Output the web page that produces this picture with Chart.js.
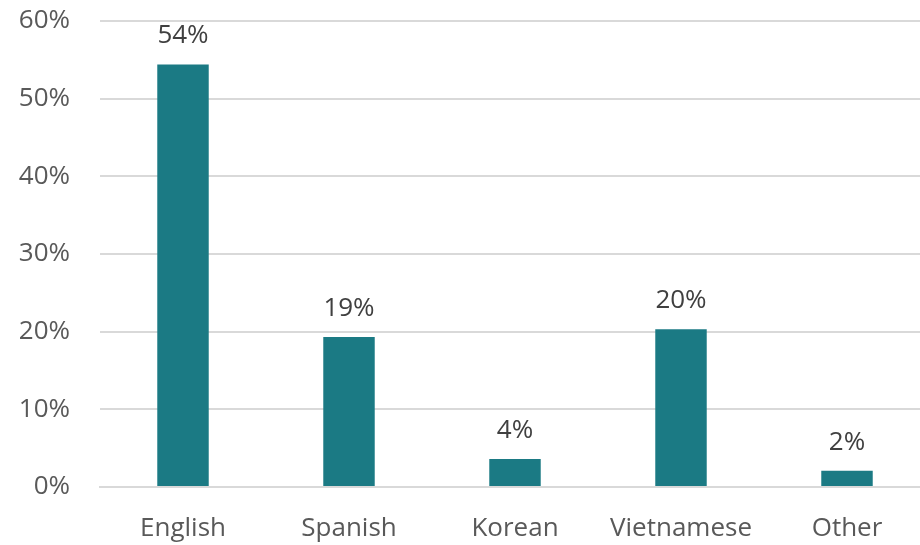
<!DOCTYPE html>
<html>
<head>
<meta charset="utf-8">
<script src="https://cdn.jsdelivr.net/npm/chart.js@4/dist/chart.umd.min.js"></script>
<style>
  html, body { margin: 0; padding: 0; background: #fff; overflow: hidden; }
  #wrap { width: 930px; height: 545px; }
</style>
</head>
<body>
<div id="wrap"><canvas id="c" width="930" height="545"></canvas></div>
<script>
// Share of respondents by language
const languages = ["English", "Spanish", "Korean", "Vietnamese", "Other"];
const shares = [54.4, 19.3, 3.6, 20.3, 2.1];
const yTicks = [0, 10, 20, 30, 40, 50, 60];

const FONT = "'Open Sans', 'Liberation Sans', sans-serif";
const FONT_SIZE = 26;

// Percent labels above each bar, computed from the bar's own value
const valueLabels = {
  id: "valueLabels",
  afterDatasetsDraw(chart) {
    const ctx = chart.ctx;
    const meta = chart.getDatasetMeta(0);
    ctx.save();
    ctx.font = FONT_SIZE + "px " + FONT;
    ctx.fillStyle = "#404040";
    ctx.textAlign = "center";
    ctx.textBaseline = "alphabetic";
    meta.data.forEach((bar, i) => {
      ctx.fillText(Math.round(shares[i]) + "%", bar.x, bar.y - 21);
    });
    ctx.restore();
  }
};

new Chart(document.getElementById("c"), {
  type: "bar",
  data: {
    labels: languages,
    datasets: [{
      data: shares,
      backgroundColor: "#1b7a84",
      categoryPercentage: 0.62,
      barPercentage: 0.5
    }]
  },
  options: {
    responsive: false,
    animation: false,
    layout: { padding: { top: 21, left: 0, right: 0, bottom: 0 } },
    plugins: { legend: { display: false }, tooltip: { enabled: false } },
    scales: {
      x: {
        grid: { display: false, drawTicks: false },
        border: { color: "#d9d9d9", width: 2 },
        ticks: { color: "#595959", font: { family: FONT, size: FONT_SIZE }, padding: 26 },
        afterFit(s) { s.height = 58; s.paddingLeft = 0; s.paddingRight = 0; }
      },
      y: {
        min: 0, max: 60,
        afterBuildTicks(s) { s.ticks = yTicks.map(v => ({ value: v })); },
        grid: { color: "#d9d9d9", lineWidth: 2, drawTicks: false },
        border: { display: false },
        ticks: {
          color: "#595959",
          font: { family: FONT, size: FONT_SIZE },
          padding: 30,
          callback: v => v + "%"
        },
        afterFit(s) { s.width = 100; s.paddingTop = 0; s.paddingBottom = 0; }
      }
    }
  },
  plugins: [valueLabels]
});
</script>
</body>
</html>
